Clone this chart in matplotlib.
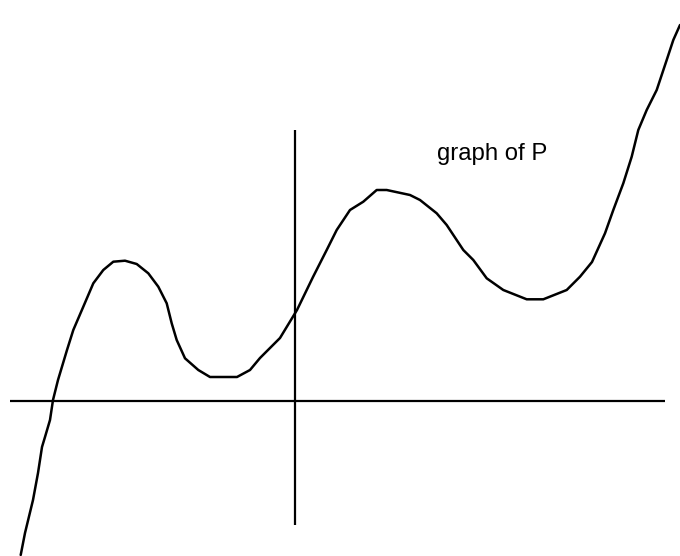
import matplotlib
matplotlib.use("Agg")
import matplotlib.pyplot as plt

# curve points (x, P(x)) with the origin at the axes crossing
curve_x = [-274.3, -270, -262, -257, -253, -250, -245, -242, -237, -228, -221.7, -211.7,
           -201.7, -191.7, -181.7, -170, -158.3, -146.7, -136.7, -128.3, -123.3, -118.3,
           -110, -96.7, -85, -58, -45, -35, -15, 2, 18, 31.7, 41.7, 55, 68.3, 81.7, 91.7,
           115, 125, 141.7, 151.7, 168.3, 178.3, 191.7, 208.3, 231.7, 248.3, 271.7, 285,
           297, 310, 318.3, 328.3, 336.7, 343.3, 351.7, 361.7, 371.7, 378.3, 385]
curve_y = [-154, -132, -99, -72, -46, -36, -19, 1, 21, 51, 71, 94.3,
           117.7, 131, 139.3, 140.3, 137, 127.7, 114.3, 97.7, 77.7, 61,
           42.7, 31, 24, 24, 31, 43, 63, 91, 124, 151, 171, 191, 199.3, 211, 211,
           206, 201, 187.7, 176, 151, 141, 122.7, 111, 101.7, 101.7, 111, 124.3,
           139, 167.7, 191, 217.7, 244.3, 271, 291, 311, 341, 361, 376]

label_text = "graph of P"

fig = plt.figure(figsize=(6.8, 5.56), dpi=100)
ax = fig.add_axes([0, 0, 1, 1])
ax.set_xlim(-295, 385)
ax.set_ylim(-155, 401)
ax.axis("off")

# coordinate axes
ax.plot([-285, 370], [0, 0], color="black", lw=1.6, solid_capstyle="butt")
ax.plot([0, 0], [-124, 271], color="black", lw=1.6, solid_capstyle="butt")

ax.plot(curve_x, curve_y, color="black", lw=1.8, solid_joinstyle="round",
        solid_capstyle="round")

ax.text(142, 247, label_text, fontsize=17.2, family=["Liberation Sans", "DejaVu Sans"],
        ha="left", va="center", color="black")

fig.savefig("out.png", dpi=100)
